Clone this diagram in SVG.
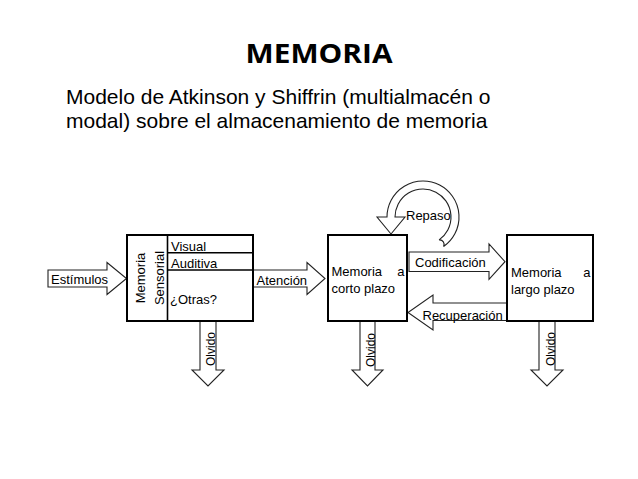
<svg xmlns="http://www.w3.org/2000/svg" width="638" height="479" viewBox="0 0 638 479">
<style>
  text { font-family: "Liberation Sans", Arial, sans-serif; fill: #000; }
  .lbl { font-size: 13px; }
  .olv { font-size: 12px; }
  .box { fill: #fff; stroke: #000; stroke-width: 2; }
  .div { fill: none; stroke: #000; stroke-width: 1.6; }
  .arr { fill: #fff; stroke: #222; stroke-width: 1.1; stroke-linejoin: miter; }
</style>
<rect x="0" y="0" width="638" height="479" fill="#fff"/>

<g id="title">
  <text x="319" y="63" text-anchor="middle" style="font-family:'Open Sans','Liberation Sans',sans-serif;font-weight:bold;font-size:27px" textLength="147" lengthAdjust="spacingAndGlyphs">MEMORIA</text>
</g>
<g id="subtitle">
  <text x="66" y="104" style="font-size:21px">Modelo de Atkinson y Shiffrin (multialmacén o</text>
  <text x="66" y="128" style="font-size:21px">modal) sobre el almacenamiento de memoria</text>
</g>

<g id="connectors">
  <!-- Estímulos -->
  <path class="arr" d="M48,270 H107 V262.5 L126.5,278.5 L107,294.5 V287 H48 Z"/>
  <text class="lbl" x="51" y="284">Estímulos</text>
  <!-- Atención -->
  <path class="arr" d="M253,270 H307 V262.5 L325,278.5 L307,294.5 V287 H253"/>
  <text class="lbl" x="256.5" y="285">Atención</text>
  <!-- Codificación -->
  <path class="arr" d="M409,252 H489 V244 L505,261.7 L489,279.3 V271.5 H409 Z"/>
  <text class="lbl" x="415" y="266.5">Codificación</text>
  <!-- Recuperación -->
  <path class="arr" d="M507,303 H433 V295 L408,312.5 L433,330 V320.5 H507"/>
  <text class="lbl" x="422.5" y="320">Recuperación</text>
  <!-- Repaso -->
  <path class="arr" d="M443.6,246.5 A36,36 0 1 0 387,217 L377,217 L391,234 L405,217 L395,217 A28,28 0 1 1 439.1,239.9 A4.5,4.5 0 0 1 443.6,246.5 Z"/>
  <text class="lbl" x="406" y="220">Repaso</text>
  <!-- Olvido arrows -->
  <path class="arr" d="M200,321 V370 H192 L208,386 L224,370 H216 V321"/>
  <text class="olv" transform="translate(215,349) rotate(-90)" text-anchor="middle">Olvido</text>
  <path class="arr" d="M360,321 V370 H352 L367.5,386 L383,370 H375 V321"/>
  <text class="olv" transform="translate(375,350) rotate(-90)" text-anchor="middle">Olvido</text>
  <path class="arr" d="M539,321 V370 H531 L547,386 L563,370 H555 V321"/>
  <text class="olv" transform="translate(554.5,349) rotate(-90)" text-anchor="middle">Olvido</text>
</g>

<g id="sensory">
  <rect class="box" x="127" y="235" width="126" height="86"/>
  <line class="div" x1="167.5" y1="235" x2="167.5" y2="321"/>
  <line class="div" x1="167.5" y1="252.7" x2="253" y2="252.7"/>
  <line class="div" x1="167.5" y1="270" x2="253" y2="270"/>
  <text class="lbl" transform="translate(144.5,278) rotate(-90)" text-anchor="middle">Memoria</text>
  <text class="lbl" transform="translate(163.5,278) rotate(-90)" text-anchor="middle">Sensorial</text>
  <text class="lbl" x="171" y="250.5">Visual</text>
  <text class="lbl" x="171" y="267.5">Auditiva</text>
  <text class="lbl" x="170" y="304">¿Otras?</text>
</g>

<g id="short-term">
  <rect class="box" x="328" y="235" width="79" height="86"/>
  <text class="lbl" x="331.5" y="276">Memoria</text>
  <text class="lbl" x="404.5" y="276" text-anchor="end">a</text>
  <text class="lbl" x="331.5" y="293">corto plazo</text>
</g>

<g id="long-term">
  <rect class="box" x="507" y="235" width="86" height="86"/>
  <text class="lbl" x="511" y="276.5">Memoria</text>
  <text class="lbl" x="590.5" y="276.5" text-anchor="end">a</text>
  <text class="lbl" x="511" y="293.5">largo plazo</text>
</g>
</svg>
